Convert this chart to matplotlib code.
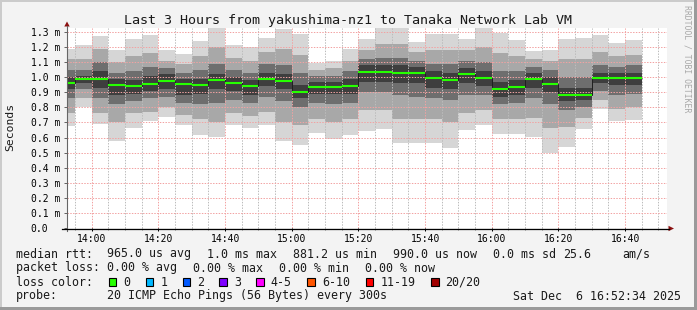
import numpy as np
import matplotlib
matplotlib.use("Agg")
import matplotlib.pyplot as plt
from matplotlib.patches import Rectangle, Polygon
from matplotlib.ticker import MultipleLocator, FuncFormatter

plt.rcParams['font.family'] = ['DejaVu Sans Mono']

# 5 minute bins (start time of each bin)
bin_times = ["13:50", "13:55", "14:00", "14:05", "14:10", "14:15", "14:20",
             "14:25", "14:30", "14:35", "14:40", "14:45", "14:50", "14:55",
             "15:00", "15:05", "15:10", "15:15", "15:20", "15:25", "15:30",
             "15:35", "15:40", "15:45", "15:50", "15:55", "16:00", "16:05",
             "16:10", "16:15", "16:20", "16:25", "16:30", "16:35", "16:40"]

# rtt in ms: sorted ping percentiles per bin (smoke) and the median
rtt_min = [0.678, 0.800, 0.690, 0.579, 0.663, 0.710, 0.738, 0.683, 0.617, 0.601,
           0.683, 0.663, 0.683, 0.577, 0.552, 0.632, 0.592, 0.617, 0.643, 0.657,
           0.566, 0.566, 0.566, 0.533, 0.650, 0.683, 0.623, 0.623, 0.606, 0.499,
           0.539, 0.657, 0.790, 0.710, 0.716]
rtt_p3 = [0.76, 0.86, 0.76, 0.70, 0.76, 0.77, 0.80, 0.75, 0.72, 0.70,
          0.76, 0.74, 0.77, 0.70, 0.68, 0.72, 0.70, 0.72, 0.78, 0.78,
          0.72, 0.72, 0.72, 0.70, 0.76, 0.78, 0.72, 0.72, 0.73, 0.66,
          0.67, 0.73, 0.85, 0.79, 0.80]
rtt_p6 = [0.86, 0.92, 0.86, 0.82, 0.84, 0.86, 0.87, 0.83, 0.82, 0.83,
          0.85, 0.83, 0.87, 0.84, 0.80, 0.83, 0.82, 0.83, 0.90, 0.90,
          0.88, 0.87, 0.86, 0.85, 0.88, 0.88, 0.82, 0.83, 0.86, 0.82,
          0.78, 0.80, 0.91, 0.88, 0.89]
rtt_p9 = [0.92, 0.96, 0.93, 0.88, 0.89, 0.91, 0.92, 0.88, 0.89, 0.92,
          0.91, 0.88, 0.94, 0.92, 0.86, 0.89, 0.89, 0.89, 0.97, 0.97,
          0.96, 0.96, 0.93, 0.92, 0.96, 0.94, 0.87, 0.88, 0.93, 0.90,
          0.84, 0.85, 0.96, 0.95, 0.95]
rtt_median = [0.964, 0.988, 0.988, 0.948, 0.942, 0.957, 0.975, 0.957, 0.950, 0.981,
              0.964, 0.944, 0.990, 0.975, 0.904, 0.937, 0.937, 0.944, 1.035, 1.035,
              1.030, 1.030, 0.997, 0.981, 1.019, 0.997, 0.922, 0.935, 0.990, 0.957,
              0.884, 0.884, 0.997, 0.997, 0.997]
rtt_p12 = [1.00, 1.01, 1.04, 0.99, 0.98, 1.01, 1.02, 0.99, 0.99, 1.02,
           1.00, 0.98, 1.03, 1.02, 0.95, 0.97, 0.97, 0.99, 1.08, 1.08,
           1.08, 1.07, 1.04, 1.03, 1.06, 1.04, 0.97, 0.98, 1.03, 1.00,
           0.93, 0.93, 1.03, 1.03, 1.03]
rtt_p15 = [1.05, 1.05, 1.10, 1.03, 1.04, 1.07, 1.06, 1.03, 1.05, 1.09,
           1.05, 1.03, 1.09, 1.08, 1.03, 1.01, 1.01, 1.04, 1.12, 1.13,
           1.13, 1.11, 1.09, 1.09, 1.11, 1.10, 1.04, 1.04, 1.07, 1.05,
           1.00, 1.00, 1.08, 1.07, 1.08]
rtt_p18 = [1.12, 1.12, 1.19, 1.10, 1.14, 1.16, 1.11, 1.09, 1.14, 1.20,
           1.13, 1.11, 1.17, 1.19, 1.15, 1.05, 1.06, 1.11, 1.18, 1.22,
           1.22, 1.17, 1.18, 1.18, 1.18, 1.20, 1.16, 1.14, 1.12, 1.11,
           1.12, 1.12, 1.17, 1.14, 1.15]
rtt_max = [1.185, 1.214, 1.275, 1.180, 1.253, 1.280, 1.180, 1.154, 1.242, 1.326,
           1.214, 1.202, 1.260, 1.320, 1.287, 1.096, 1.107, 1.185, 1.251, 1.324,
           1.324, 1.231, 1.284, 1.287, 1.256, 1.326, 1.291, 1.247, 1.174, 1.180,
           1.250, 1.262, 1.280, 1.229, 1.247]

loss_labels = ["0", "1", "2", "3", "4-5", "6-10", "11-19", "20/20"]
loss_colors = ["#26ff00", "#00b8ff", "#0059ff", "#7e00ff", "#ff00ff",
               "#ff5500", "#ff0000", "#a10000"]

W, H = 697, 310
fig = plt.figure(figsize=(W / 100, H / 100), dpi=100)
fig.patch.set_facecolor("#f3f3f3")

t_start = 13 * 60 + 52 + 34 / 60.0
t0 = np.array([int(s[:2]) * 60 + int(s[3:]) for s in bin_times], dtype=float)

ax = fig.add_axes([67 / W, 1 - 228 / H, 600 / W, 200 / H])
ax.set_facecolor("white")

# smoke, outer band first, darker towards the median
bands = [(rtt_min, rtt_max, "#d6d6d6"),
         (rtt_p3, rtt_p18, "#a8a8a8"),
         (rtt_p6, rtt_p15, "#6e6e6e"),
         (rtt_p9, rtt_p12, "#3e3e3e")]
for lo, hi, col in bands:
    lo = np.array(lo)
    hi = np.array(hi)
    ax.bar(t0, hi - lo, bottom=lo, width=5, align="edge", color=col,
           linewidth=0, antialiased=False, zorder=1)

# median line
edges = np.append(t0, t0[-1] + 5)
ax.stairs(rtt_median, edges, baseline=None, color="#202020", lw=0.72, zorder=3)
ax.hlines(rtt_median, t0, t0 + 5, color=loss_colors[0], lw=1.5, zorder=4)

ax.set_xlim(t_start, t_start + 180)
ax.set_ylim(0, 1.326)
for s in ax.spines.values():
    s.set_visible(False)

ax.set_yticks(np.arange(0, 1.31, 0.1))
ax.set_yticklabels(["0.0"] + ["%.1f m" % v for v in np.arange(0.1, 1.31, 0.1)])
ax.xaxis.set_major_locator(MultipleLocator(20))
ax.xaxis.set_minor_locator(MultipleLocator(5))
ax.xaxis.set_major_formatter(FuncFormatter(lambda v, p: "%02d:%02d" % (v // 60, v % 60)))

ax.set_axisbelow(False)
grid_kw = dict(linestyle=(0, (1.4, 1.4)), lw=0.72)
ax.yaxis.grid(True, color="#f2a2a2", **grid_kw)
ax.xaxis.grid(True, which="major", color="#f2a2a2", **grid_kw)
ax.xaxis.grid(True, which="minor", color="#bcbcbc", **grid_kw)

ax.tick_params(axis="y", length=2.5, width=0.72, color="#666666", pad=23.6, labelsize=7)
for lab in ax.get_yticklabels():
    lab.set_horizontalalignment("left")
ax.tick_params(axis="x", which="major", length=2.2, width=0.72, color="black", pad=2.2, labelsize=7)
ax.tick_params(axis="x", which="minor", length=1.4, width=0.72, color="#888888")

# overlay in pixel coordinates for frame, axis lines and legend text
ov = fig.add_axes([0, 0, 1, 1], zorder=5)
ov.set_xlim(0, W)
ov.set_ylim(H, 0)
ov.axis("off")
ov.patch.set_alpha(0)

ov.add_patch(Rectangle((0, 0), W, 2, color="#cbcbcb", lw=0))
ov.add_patch(Rectangle((0, 0), 2, H, color="#cbcbcb", lw=0))
ov.add_patch(Rectangle((0, H - 3), W, 3, color="#9a9a9a", lw=0))
ov.add_patch(Rectangle((W - 3, 0), 3, H, color="#9a9a9a", lw=0))

ov.plot([67, 67], [231, 26], color="#666666", lw=0.8)
ov.plot([62, 669], [228.5, 228.5], color="black", lw=0.9)
ov.add_patch(Polygon([(64.3, 26.5), (69.7, 26.5), (67, 21.5)], color="#8b1010", lw=0))
ov.add_patch(Polygon([(668.5, 225.8), (668.5, 231.2), (674, 228.5)], color="#8b1010", lw=0))

ov.text(348, 24, "Last 3 Hours from yakushima-nz1 to Tanaka Network Lab VM",
        ha="center", va="baseline", fontsize=9.6, color="#1a1a1a")
ov.text(10.5, 127, "Seconds", rotation=90, ha="center", va="center", fontsize=8.2, color="#1a1a1a")
ov.text(687, 59, "RRDTOOL / TOBI OETIKER", rotation=270, ha="center", va="center",
        fontsize=5.9, color="#a8a8a8")

fs = 8.4
tc = "#1a1a1a"
line1 = [(16, "median rtt:"), (107, "965.0 us avg"), (207, "1.0 ms max"),
         (293, "881.2 us min"), (393, "990.0 us now"), (493, "0.0 ms sd"),
         (563, "25.6"), (622, "am/s")]
line2 = [(16, "packet loss:"), (107, "0.00 % avg"), (193, "0.00 % max"),
         (279, "0.00 % min"), (365, "0.00 % now")]
for x, s in line1:
    ov.text(x, 257.5, s, fontsize=fs, va="baseline", color=tc)
for x, s in line2:
    ov.text(x, 271.5, s, fontsize=fs, va="baseline", color=tc)

ov.text(16, 285.5, "loss color:", fontsize=fs, va="baseline", color=tc)
box_x = [108.7, 145.7, 182.7, 219.3, 256, 307.3, 365.7, 431]
for bx, lab, col in zip(box_x, loss_labels, loss_colors):
    ov.add_patch(Rectangle((bx, 278), 7.5, 8, facecolor=col, edgecolor="black", lw=0.8))
    ov.text(bx + 14.6, 285.5, lab, fontsize=fs, va="baseline", color=tc)

ov.text(16, 299.5, "probe:", fontsize=fs, va="baseline", color=tc)
ov.text(107, 299.5, "20 ICMP Echo Pings (56 Bytes) every 300s", fontsize=fs, va="baseline", color=tc)
ov.text(513, 299.5, "Sat Dec  6 16:52:34 2025", fontsize=fs, va="baseline", color=tc)

fig.savefig("out.png", dpi=100, facecolor=fig.get_facecolor())
